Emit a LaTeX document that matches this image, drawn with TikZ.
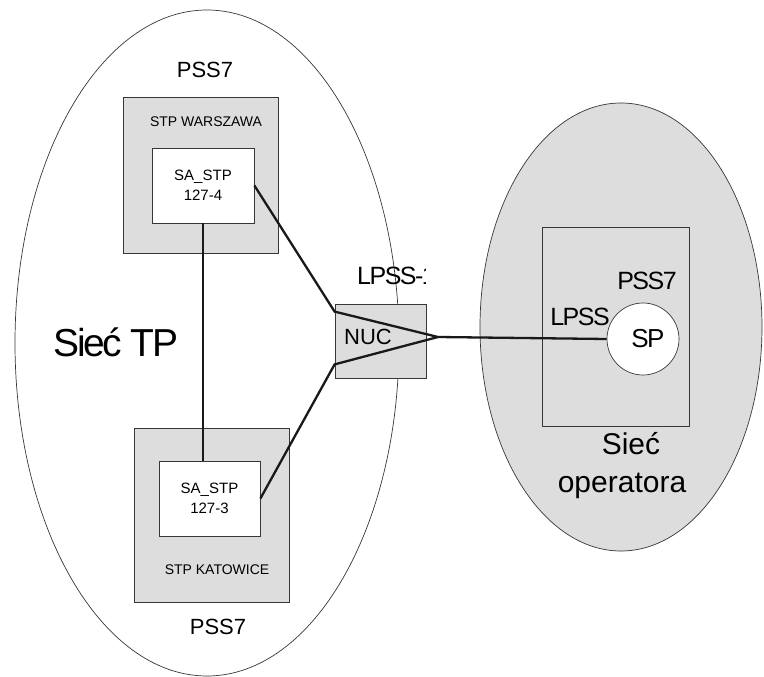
\documentclass[tikz,border=0pt]{standalone}
\usepackage{fontspec}
\setmainfont{Liberation Sans}
\newfontfamily\tightsans[LetterSpace=-6]{Liberation Sans}
\usetikzlibrary{positioning, calc}
\definecolor{PanelGray}{RGB}{221, 221, 221}
\definecolor{EdgeGray}{RGB}{55, 55, 55}
\definecolor{LinkBlack}{RGB}{25, 25, 25}

\tikzset{
    stpbox/.style={draw=EdgeGray, fill=PanelGray, line width=0.8pt, inner sep=0pt},
    sabox/.style={draw=EdgeGray, fill=white, line width=0.8pt, inner sep=0pt,
        minimum width=102pt, minimum height=75pt, align=center,
        font=\fontsize{15}{20}\selectfont},
    pssnote/.style={font=\fontsize{22}{26}\selectfont, inner sep=0pt},
    stpnote/.style={font=\fontsize{14}{17}\selectfont, inner sep=0pt},
    tightnote/.style={font=\tightsans\fontsize{25}{30}\selectfont, inner sep=0pt},
    link/.style={draw=LinkBlack, line width=2.3pt}
}

\begin{document}
\begin{tikzpicture}[x=1pt, y=-1pt]
        \useasboundingbox (0,0) rectangle (764,677);

        % Network outlines
        \draw[EdgeGray, line width=0.7pt] (207,343) ellipse [x radius=192, y radius=333];
        \draw[EdgeGray, fill=PanelGray, line width=0.7pt] (621,327) ellipse [x radius=141, y radius=224];

        % Sie\'c TP side
        \node[pssnote] (psstop) at (205,70) {PSS7};
        \node[stpbox, minimum width=155pt, minimum height=156pt] (warszawa) at (200.5,175) {};
        \node[stpnote] (warszawalabel) at (206,122) {STP WARSZAWA};
        \node[sabox] (sa4) at (203,185.5) {SA\_STP\\127-4};

        \node[stpbox, minimum width=155pt, minimum height=174pt] (katowice) at (211.5,515) {};
        \node[sabox, minimum width=101pt] (sa3) at (209.5,498.5) {SA\_STP\\127-3};
        \node[stpnote] (katowicelabel) at (217,570) {STP KATOWICE};
        \node[pssnote] (pssbottom) at (218,627) {PSS7};

        \node[font=\tightsans\fontsize{39}{44}\selectfont, inner sep=0pt] (tpnet) at (116,342) {Sieć TP};

        % Gateway
        \begin{scope}
            \clip (340,255) rectangle (425,295);
            \node[tightnote, anchor=west] (lpssone) at (357,276) {LPSS-1};
        \end{scope}
        \node[stpbox, minimum width=91pt, minimum height=74pt] (nuc) at (380.5,341) {};
        \node[font=\fontsize{22}{26}\selectfont, inner sep=0pt] (nuclabel) at (368,337) {NUC};

        % Operator side
        \node[draw=EdgeGray, line width=0.8pt, minimum width=147pt, minimum height=199pt] (operator) at (615.5,326.5) {};
        \node[tightnote] (pssop) at (647,281) {PSS7};
        \node[tightnote] (lpssop) at (580,317) {LPSS};
        \node[circle, draw=EdgeGray, fill=white, line width=0.7pt, minimum size=72pt, inner sep=0pt,
            font=\tightsans\fontsize{26}{30}\selectfont] (sp) at (643,339) {\hspace{10pt}SP};
        \node[font=\fontsize{30}{38}\selectfont, align=center, inner sep=0pt] (opnet) at (622,466) {\hspace{18pt}Sieć\\operatora};

        % Links
        \coordinate (apex) at (438,337);
        \draw[link] (sa4.south) -- (sa4.south |- sa3.north);
        \draw[link] (sa4.east) -- ([yshift=-8pt]nuc.north west) -- (apex);
        \draw[link] (sa3.east) -- ([yshift=14pt]nuc.south west) -- (apex);
        \draw[link] (apex) -- (sp.west);
    \end{tikzpicture}
\end{document}
